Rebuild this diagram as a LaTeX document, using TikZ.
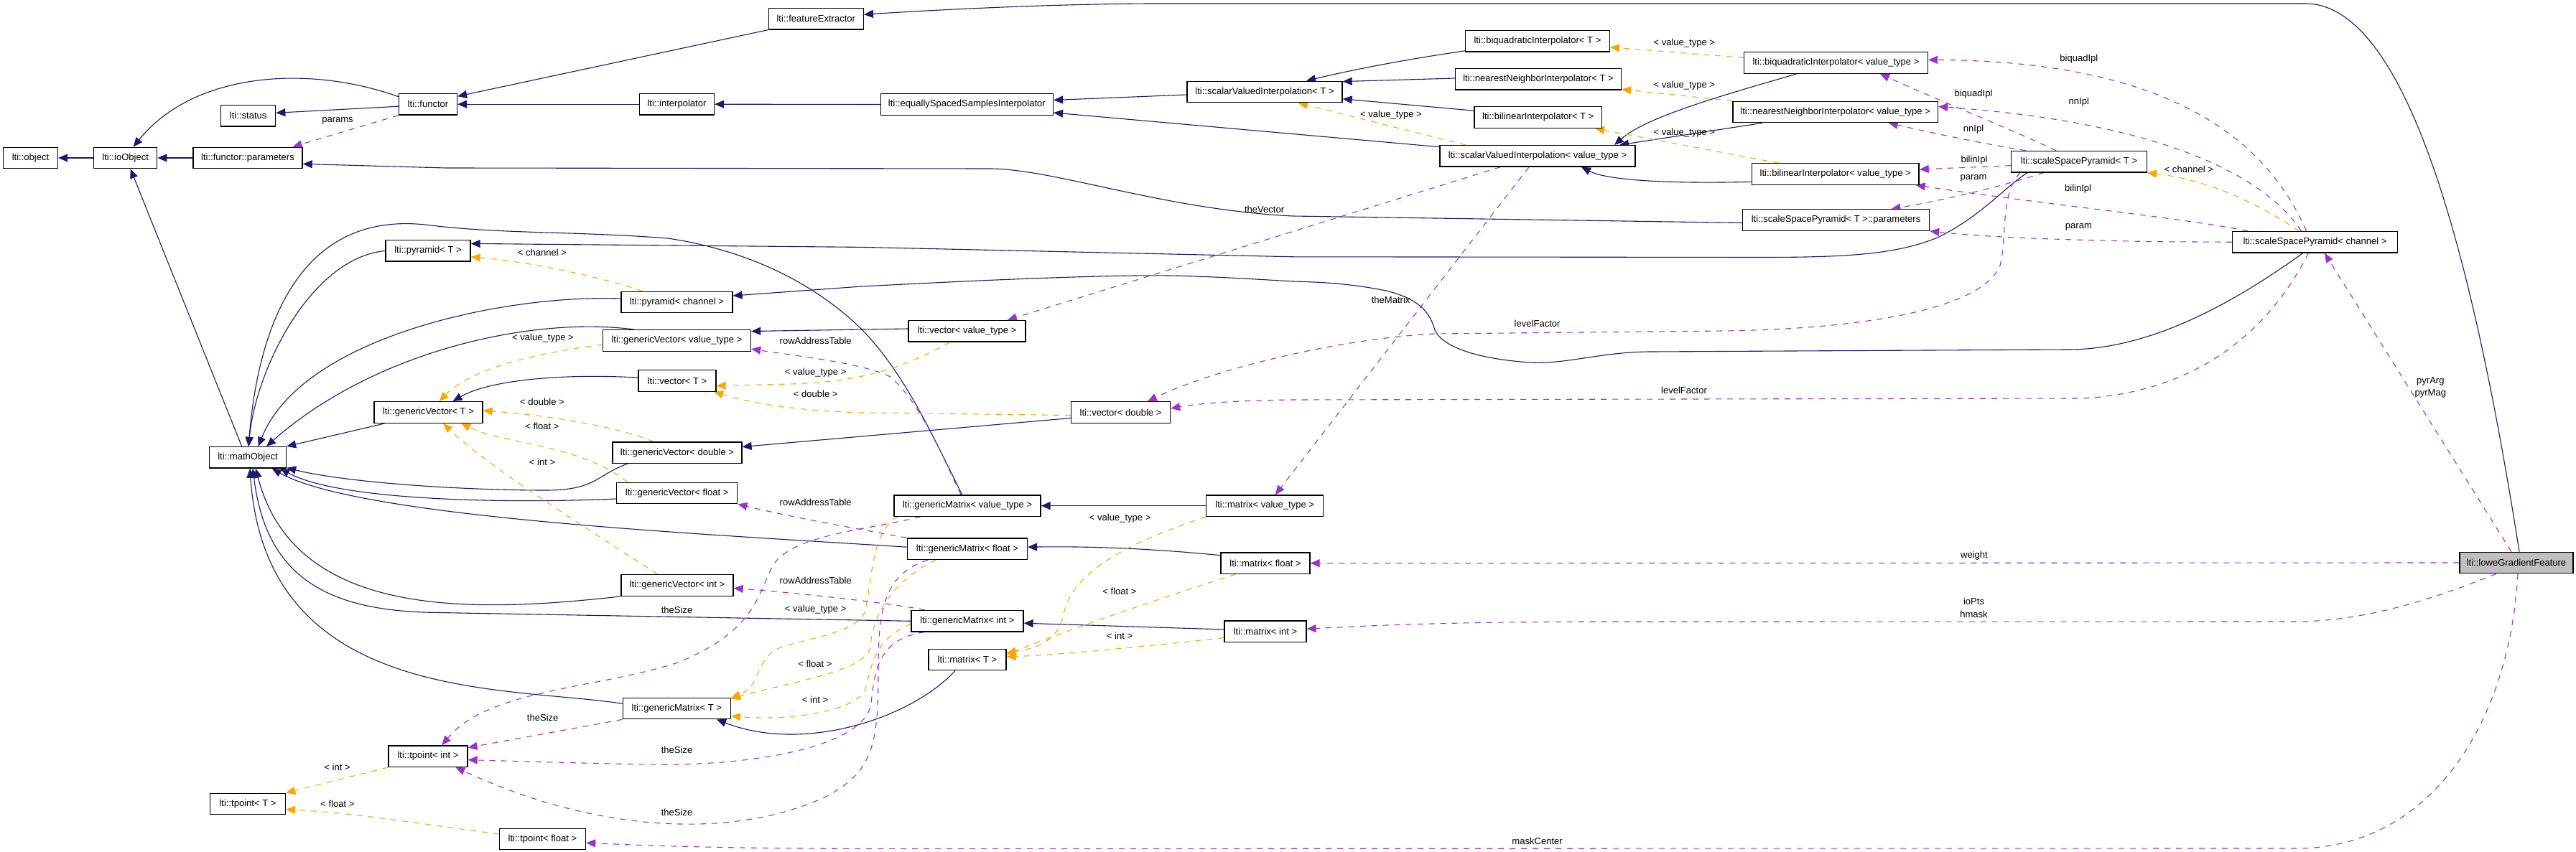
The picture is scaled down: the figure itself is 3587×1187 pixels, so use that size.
\documentclass[tikz,border=0pt]{standalone}
\usepackage{fontspec}
\setmainfont{Liberation Sans}
\usetikzlibrary{arrows.meta,backgrounds}
\definecolor{inhcol}{HTML}{191970}
\definecolor{tplcol}{HTML}{FFA500}
\definecolor{usecol}{HTML}{9A32CD}
\definecolor{lowegray}{HTML}{BFBFBF}
\newcommand\dxfont{\fontsize{6.52}{7.8}\selectfont}
\begin{document}
\begin{tikzpicture}[x=0.5pt,y=-0.5pt,
  cbox/.style={draw=black, line width=0.65pt, fill=white, minimum height=14.75pt, inner sep=0pt, minimum width=#1*0.5pt, font=\dxfont},
  arrtip/.style={-{Triangle[length=6.5pt,width=5.5pt]}},
  inh/.style={draw=inhcol, line width=0.55pt, arrtip},
  tpl/.style={draw=tplcol, line width=0.55pt, dash pattern=on 4pt off 4pt, arrtip},
  usedge/.style={draw=usecol, line width=0.55pt, dash pattern=on 4pt off 4pt, arrtip},
  lbl/.style={font=\dxfont, inner sep=0pt, align=center}]
\useasboundingbox (0,0) rectangle (3587,1187);
% nodes
\node[cbox=76] (object) at (42.5,220) {lti::object};
\node[cbox=88] (ioObject) at (174.7,220) {lti::ioObject};
\node[cbox=152] (fparams) at (345,220) {lti::functor::parameters};
\node[cbox=76] (status) at (345.7,161.3) {lti::status};
\node[cbox=81] (functor) at (596,145.2) {lti::functor};
\node[cbox=118] (pyrT) at (596,349.4) {lti::pyramid< T >};
\node[cbox=151] (gvT) at (596.5,574.5) {lti::genericVector< T >};
\node[cbox=107] (mathObject) at (345,637.3) {lti::mathObject};
\node[cbox=105] (tpointT) at (345,1120) {lti::tpoint< T >};
\node[cbox=110] (tpointInt) at (596,1053.6) {lti::tpoint< int >};
\node[cbox=132] (featureExtractor) at (1136.3,26.2) {lti::featureExtractor};
\node[cbox=104] (interpolator) at (942.5,145.2) {lti::interpolator};
\node[cbox=155] (pyrCh) at (942.5,421) {lti::pyramid< channel >};
\node[cbox=206] (gvVT) at (942.5,474.5) {lti::genericVector< value\_type >};
\node[cbox=108] (vecT) at (943,530.5) {lti::vector< T >};
\node[cbox=180] (gvDouble) at (943,630.8) {lti::genericVector< double >};
\node[cbox=168] (gvFloat) at (942.7,687) {lti::genericVector< float >};
\node[cbox=156] (gvInt) at (943,815.5) {lti::genericVector< int >};
\node[cbox=150] (gmT) at (942.3,987) {lti::genericMatrix< T >};
\node[cbox=120] (tpointFloat) at (755.5,1169) {lti::tpoint< float >};
\node[cbox=240] (equally) at (1346.4,145.5) {lti::equallySpacedSamplesInterpolator};
\node[cbox=216] (svT) at (1761,128) {lti::scalarValuedInterpolation< T >};
\node[cbox=163] (vecVT) at (1346.5,461.3) {lti::vector< value\_type >};
\node[cbox=138] (vecDouble) at (1560.5,574.5) {lti::vector< double >};
\node[cbox=204] (gmVT) at (1347,704.6) {lti::genericMatrix< value\_type >};
\node[cbox=167] (gmFloat) at (1347,764.7) {lti::genericMatrix< float >};
\node[cbox=156] (gmInt) at (1347,865.3) {lti::genericMatrix< int >};
\node[cbox=108] (matT) at (1347,919) {lti::matrix< T >};
\node[cbox=163] (matVT) at (1761.2,704.6) {lti::matrix< value\_type >};
\node[cbox=124] (matFloat) at (1762,784.7) {lti::matrix< float >};
\node[cbox=114] (matInt) at (1762,879.8) {lti::matrix< int >};
\node[cbox=200.5] (bqT) at (2141,57.4) {lti::biquadraticInterpolator< T >};
\node[cbox=231] (nnT) at (2142,110.4) {lti::nearestNeighborInterpolator< T >};
\node[cbox=177.6] (blT) at (2141.7,163.6) {lti::bilinearInterpolator< T >};
\node[cbox=272] (svVT) at (2141,217.4) {lti::scalarValuedInterpolation< value\_type >};
\node[cbox=255.6] (bqVT) at (2556.5,87.6) {lti::biquadraticInterpolator< value\_type >};
\node[cbox=285.5] (nnVT) at (2555.7,156) {lti::nearestNeighborInterpolator< value\_type >};
\node[cbox=232.7] (blVT) at (2555.7,242.6) {lti::bilinearInterpolator< value\_type >};
\node[cbox=260] (sspParams) at (2556.5,306.5) {lti::scaleSpacePyramid< T >::parameters};
\node[cbox=188.7] (sspT) at (2895,225.2) {lti::scaleSpacePyramid< T >};
\node[cbox=229.6] (sspCh) at (3223.5,337.3) {lti::scaleSpacePyramid< channel >};
\node[cbox=158, fill=lowegray] (lowe) at (3504,784) {lti::loweGradientFeature};
% labels
\node[lbl] (l1) at (470,168.7) {params};
\node[lbl] (l2) at (755,352) {< channel >};
\node[lbl] (l3) at (756,471.4) {< value\_type >};
\node[lbl] (l4) at (1135.7,519.3) {< value\_type >};
\node[lbl] (l5) at (1135.7,549) {< double >};
\node[lbl] (l6) at (755,559.8) {< double >};
\node[lbl] (l7) at (755,594) {< float >};
\node[lbl] (l8) at (755,644.3) {< int >};
\node[lbl] (l9) at (1135.7,474.5) {rowAddressTable};
\node[lbl] (l10) at (1135.7,700.2) {rowAddressTable};
\node[lbl] (l11) at (1135.7,808.9) {rowAddressTable};
\node[lbl] (l12) at (942.5,849.4) {theSize};
\node[lbl] (l13) at (1135.7,848.7) {< value\_type >};
\node[lbl] (l14) at (1135,925.2) {< float >};
\node[lbl] (l15) at (1135,974.6) {< int >};
\node[lbl] (l16) at (755.7,1000.2) {theSize};
\node[lbl] (l17) at (942.5,1044.6) {theSize};
\node[lbl] (l18) at (942.5,1131.5) {theSize};
\node[lbl] (l19) at (469.5,1069) {< int >};
\node[lbl] (l20) at (470,1120) {< float >};
\node[lbl] (l21) at (1559.7,722) {< value\_type >};
\node[lbl] (l22) at (1559,823.4) {< float >};
\node[lbl] (l23) at (1559,885.8) {< int >};
\node[lbl] (l24) at (1760.6,291.6) {theVector};
\node[lbl] (l25) at (1936.6,418.2) {theMatrix};
\node[lbl] (l26) at (1937,160) {< value\_type >};
\node[lbl] (l27) at (2345.3,60) {< value\_type >};
\node[lbl] (l28) at (2345.3,119) {< value\_type >};
\node[lbl] (l29) at (2345.3,185.2) {< value\_type >};
\node[lbl] (l30) at (2140.6,450.8) {levelFactor};
\node[lbl] (l31) at (2345,543.4) {levelFactor};
\node[lbl] (l32) at (2748,131) {biquadIpl};
\node[lbl] (l33) at (2748,180) {nnIpl};
\node[lbl] (l34) at (2749,222.7) {bilinIpl};
\node[lbl] (l35) at (2748,248) {param};
\node[lbl] (l36) at (2894.8,82.3) {biquadIpl};
\node[lbl] (l37) at (2894.8,142.3) {nnIpl};
\node[lbl] (l38) at (2893.6,263.3) {bilinIpl};
\node[lbl] (l39) at (2894.4,316) {param};
\node[lbl] (l40) at (3047.8,236) {< channel >};
\node[lbl] (l41) at (3384.3,540) {pyrArg\\[0.6pt]pyrMag};
\node[lbl] (l42) at (2748.5,846.4) {ioPts\\[1.2pt]hmask};
\node[lbl] (l43) at (2749,773.7) {weight};
\node[lbl] (l44) at (2140.6,1171.6) {maskCenter};
\begin{scope}[on background layer]
\fill[white] (0,0) rectangle (3587,1187);
% inheritance
\draw[inh] (ioObject.west) -- (object.east);
\draw[inh] (fparams.west) -- (ioObject.east);
\draw[inh] ([shift={(0,-10.5)}]functor.west) .. controls (430,90) and (270,100) .. ([shift={(11,0)}]ioObject.north);
\draw[inh] ([shift={(0,3)}]functor.west) -- ([shift={(0,-4)}]status.east);
\draw[inh] (featureExtractor.south west) -- ([shift={(0,-11)}]functor.east);
\draw[inh] (interpolator.west) -- (functor.east);
\draw[inh] (equally.west) -- (interpolator.east);
\draw[inh] ([shift={(0,4)}]svT.west) -- ([shift={(0,-6)}]equally.east);
\draw[inh] ([shift={(0,-12.7)}]svVT.west) -- ([shift={(0,11.5)}]equally.east);
\draw[inh] ([shift={(0,13.4)}]bqT.west) .. controls (1950,84) and (1880,98) .. ([shift={(58,0)}]svT.north);
\draw[inh] ([shift={(0,-1.4)}]nnT.west) -- ([shift={(0,1)}]svT.north east);
\draw[inh] ([shift={(0,-9.4)}]blT.west) -- ([shift={(0,9.8)}]svT.east);
\draw[inh] ([shift={(-55,0)}]bqVT.south) .. controls (2380,138) and (2290,165) .. ([shift={(107,0)}]svVT.north);
\draw[inh] ([shift={(-102,0)}]nnVT.south) -- ([shift={(114,0)}]svVT.north);
\draw[inh] ([shift={(0,10.7)}]blVT.west) .. controls (2330,256) and (2240,252) .. ([shift={(61,0)}]svVT.south);
\draw[inh] ([shift={(4,0)}]lowe.north) .. controls (3450,400) and (3360,5) .. (3210,5) -- (1600,5) .. controls (1450,6) and (1300,14) .. ([shift={(0,-6)}]featureExtractor.east);
\draw[inh] ([shift={(0,4)}]sspParams.west) -- (1800,301) .. controls (1620,292) and (1470,236) .. (1380,235) -- (620,234) -- ([shift={(0,8.4)}]fparams.east);
\draw[inh] ([shift={(-72,0)}]sspT.south) .. controls (2790,262) and (2760,300) .. (2700,330) .. controls (2640,356) and (2560,358.5) .. (2450,358.5) -- (1800,357.8) .. controls (1500,352) .. (1200,344.4) -- ([shift={(0,-10)}]pyrT.east);
\draw[inh] ([shift={(-17,0)}]sspCh.south) .. controls (3120,415) and (3000,487) .. (2880,487) -- (2300,490) .. controls (2230,490) and (2180,508) .. (2130,505) .. controls (2060,500) and (2010,485) .. (1998,460) .. controls (1990,430) and (1970,415) .. (1930,405) .. controls (1880,395) and (1840,393) .. (1800,392) .. controls (1700,386) and (1640,383) .. (1580,384) .. controls (1450,386) and (1300,394) .. (1200,399) -- ([shift={(0,-9)}]pyrCh.east);
\draw[inh] ([shift={(-8.3,0)}]mathObject.north) -- ([shift={(7,0)}]ioObject.south);
\draw[inh] (pyrT.west) .. controls (430,360) and (355,520) .. ([shift={(1.3,0)}]mathObject.north);
\draw[inh] ([shift={(0,-5)}]pyrCh.west) .. controls (700,410) and (420,470) .. ([shift={(14.7,0)}]mathObject.north);
\draw[inh] ([shift={(-59.3,0)}]gvVT.north) .. controls (740,440) and (520,490) .. ([shift={(26,0)}]mathObject.north);
\draw[inh] ([shift={(-60.8,0)}]gvT.south) -- (mathObject.north east);
\draw[inh] ([shift={(-69.4,0)}]gvDouble.south) .. controls (830,662) and (830,683) .. (760,683) .. controls (640,683) and (480,672) .. ([shift={(0,-1)}]mathObject.south east);
\draw[inh] ([shift={(0,8)}]gvFloat.west) .. controls (700,702) and (470,697) .. ([shift={(45.3,0)}]mathObject.south);
\draw[inh] ([shift={(0,-2.5)}]gmFloat.west) .. controls (1000,745) and (500,722) .. ([shift={(33.8,0)}]mathObject.south);
\draw[inh] (gvInt.south west) .. controls (650,855) and (410,860) .. ([shift={(11,0)}]mathObject.south);
\draw[inh] (gmInt.west) -- (600,853.3) .. controls (450,850) and (370,800) .. ([shift={(7,0)}]mathObject.south);
\draw[inh] ([shift={(0,-6.7)}]gmT.west) .. controls (700,955) and (370,980) .. ([shift={(3,0)}]mathObject.south);
\draw[inh] ([shift={(-7.3,0)}]gmVT.north) .. controls (1300,610) and (1260,520) .. (1200,459) .. controls (1140,400) and (1050,350) .. (930,332) .. controls (800,322) and (700,326) .. (600,314) .. controls (420,290) and (360,450) .. ([shift={(1,0)}]mathObject.north);
\draw[inh] ([shift={(0,8)}]vecDouble.west) -- ([shift={(0,-8.3)}]gvDouble.east);
\draw[inh] ([shift={(0,-4.4)}]vecT.west) .. controls (780,520) and (680,530) .. ([shift={(34,0)}]gvT.north);
\draw[inh] ([shift={(0,-3.3)}]vecVT.west) -- ([shift={(0,-13)}]gvVT.east);
\draw[inh] (matVT.west) -- (gmVT.east);
\draw[inh] ([shift={(0,-11)}]matFloat.west) .. controls (1600,764) and (1520,761) .. ([shift={(0,-2.5)}]gmFloat.east);
\draw[inh] ([shift={(0,-2.8)}]matInt.west) -- ([shift={(0,2.9)}]gmInt.east);
\draw[inh] ([shift={(-17,0)}]matT.south) .. controls (1270,1000) and (1120,1050) .. ([shift={(55.7,0)}]gmT.south);
% template instances
\draw[tpl] ([shift={(-48,0)}]pyrCh.north) .. controls (850,390) and (750,366) .. ([shift={(0,8.4)}]pyrT.east);
\draw[tpl] ([shift={(0,5.7)}]gvVT.west) .. controls (720,495) and (650,520) .. ([shift={(15,0)}]gvT.north);
\draw[tpl] ([shift={(-24,0)}]vecVT.south) .. controls (1260,512) and (1200,532) .. (1100,535) -- ([shift={(0,7)}]vecT.east);
\draw[tpl] ([shift={(0,4)}]vecDouble.west) -- (1200,575) .. controls (1100,572) and (1040,560) .. ([shift={(51,0)}]vecT.south);
\draw[tpl] ([shift={(-33,0)}]gvDouble.north) .. controls (870,598) and (780,580) .. ([shift={(0,-2.5)}]gvT.east);
\draw[tpl] ([shift={(-69,0)}]gvFloat.north) .. controls (810,620) and (700,618) .. ([shift={(45.5,0)}]gvT.south);
\draw[tpl] ([shift={(-27.3,0)}]gvInt.north) .. controls (800,725) and (680,650) .. ([shift={(20.5,0)}]gvT.south);
\draw[tpl] (tpointInt.south west) -- (tpointT.north east);
\draw[tpl] ([shift={(0,-7)}]tpointFloat.west) .. controls (600,1150) and (500,1133) .. ([shift={(0,7.6)}]tpointT.east);
\draw[tpl] ([shift={(-100,0)}]svVT.north) -- ([shift={(46.7,0)}]svT.south);
\draw[tpl] ([shift={(0,-7.2)}]bqVT.west) -- ([shift={(0,8.4)}]bqT.east);
\draw[tpl] (nnVT.north west) -- ([shift={(0,14)}]nnT.east);
\draw[tpl] ([shift={(-79,0)}]blVT.north) -- ([shift={(79.3,0)}]blT.south);
\draw[tpl] ([shift={(-22.5,0)}]sspCh.north) .. controls (3140,280) and (3070,250) .. (sspT.south east);
\draw[tpl] ([shift={(-97.3,0)}]gmVT.south) .. controls (1215,740) and (1215,800) .. (1205,850) .. controls (1195,885) and (1110,890) .. (1080,905) .. controls (1050,925) and (1060,955) .. ([shift={(0,1)}]gmT.north east);
\draw[tpl] ([shift={(-44,0)}]gmFloat.south) .. controls (1240,810) and (1215,860) .. (1212,900) .. controls (1210,935) and (1100,950) .. ([shift={(0,2)}]gmT.north east);
\draw[tpl] ([shift={(0,4)}]gmInt.west) .. controls (1220,890) and (1215,920) .. (1205,960) .. controls (1195,990) and (1100,1005) .. ([shift={(0,10.5)}]gmT.east);
\draw[tpl] (matVT.south west) .. controls (1560,760) and (1490,800) .. (1480,860) .. controls (1470,900) and (1430,905) .. ([shift={(0,-9.5)}]matT.east);
\draw[tpl] ([shift={(-41.6,0)}]matFloat.south) .. controls (1620,832) and (1480,880) .. ([shift={(0,-7)}]matT.east);
\draw[tpl] ([shift={(0,8.7)}]matInt.west) .. controls (1600,900) and (1480,912) .. ([shift={(0,-4)}]matT.east);
% usage
\draw[usedge] (functor.south west) -- ([shift={(62.5,0)}]fparams.north);
\draw[usedge] ([shift={(-52,0)}]svVT.south) -- ([shift={(56.3,0)}]vecVT.north);
\draw[usedge] ([shift={(-12,0)}]svVT.south) -- ([shift={(14.7,0)}]matVT.north);
\draw[usedge] ([shift={(-32,0)}]sspT.north) .. controls (2800,180) and (2700,140) .. ([shift={(61.5,0)}]bqVT.south);
\draw[usedge] ([shift={(-74,0)}]sspT.north) .. controls (2760,200) and (2690,185) .. ([shift={(74,0)}]nnVT.south);
\draw[usedge] ([shift={(0,5.5)}]sspT.west) -- ([shift={(0,-6.6)}]blVT.east);
\draw[usedge] ([shift={(-49,0)}]sspT.south) .. controls (2780,262) and (2700,280) .. ([shift={(77,0)}]sspParams.north);
\draw[usedge] ([shift={(-12,0)}]sspCh.north) .. controls (3150,180) and (3000,85) .. ([shift={(0,-4.2)}]bqVT.east);
\draw[usedge] ([shift={(-19,0)}]sspCh.north) .. controls (3150,240) and (3000,170) .. ([shift={(0,-7.5)}]nnVT.east);
\draw[usedge] ([shift={(-93.5,0)}]sspCh.north) .. controls (3050,305) and (2850,285) .. ([shift={(112,0)}]blVT.south);
\draw[usedge] (sspCh.west) -- (3000,336.7) .. controls (2860,334) and (2760,330) .. (sspParams.south east);
\draw[usedge] ([shift={(-82,0)}]sspT.south) .. controls (2785,270) and (2795,330) .. (2785,370) .. controls (2760,430) and (2600,458) .. (2400,461) -- (2000,465) .. controls (1880,470) and (1700,510) .. ([shift={(37.5,0)}]vecDouble.north);
\draw[usedge] ([shift={(-9,0)}]sspCh.south) .. controls (3170,440) and (3080,545) .. (2900,555) -- (1800,557) .. controls (1720,558) and (1670,562) .. ([shift={(0,-5.5)}]vecDouble.east);
\draw[usedge] ([shift={(-7,0)}]lowe.north) -- ([shift={(13.5,0)}]sspCh.south);
\draw[usedge] (lowe.west) -- (matFloat.east);
\draw[usedge] ([shift={(-28,0)}]lowe.south) .. controls (3400,830) and (3300,865) .. (3200,866) -- (2183,866.3) .. controls (2000,867) and (1900,872) .. ([shift={(0,-3.6)}]matInt.east);
\draw[usedge] ([shift={(2,0)}]lowe.south) .. controls (3495,1000) and (3390,1180) .. (3200,1182) -- (1200,1182.4) .. controls (1000,1182) and (900,1178) .. ([shift={(0,5.3)}]tpointFloat.east);
\draw[usedge] ([shift={(-9,0)}]gmVT.north) .. controls (1310,630) and (1280,560) .. (1240,525) .. controls (1200,505) and (1100,495) .. ([shift={(0,11.5)}]gvVT.east);
\draw[usedge] (gmFloat.north west) .. controls (1200,738) and (1100,720) .. (gvFloat.south east);
\draw[usedge] ([shift={(-59,0)}]gmInt.north) .. controls (1240,840) and (1100,825) .. ([shift={(0,4)}]gvInt.east);
\draw[usedge] ([shift={(-65.5,0)}]gmVT.south) .. controls (1200,740) and (1100,745) .. (1075,790) .. controls (1055,830) and (1050,880) .. (944,923) .. controls (830,960) and (680,960) .. ([shift={(19.3,0)}]tpointInt.north);
\draw[usedge] (gmT.south west) -- ([shift={(0,-12)}]tpointInt.east);
\draw[usedge] ([shift={(-60,0)}]gmInt.south) .. controls (1225,890) and (1218,930) .. (1213,980) .. controls (1205,1040) and (1050,1068) .. (900,1065) .. controls (800,1063) and (700,1060) .. ([shift={(0,5)}]tpointInt.east);
\draw[usedge] ([shift={(-55,0)}]gmFloat.south) .. controls (1230,800) and (1223,850) .. (1223,934) .. controls (1223,1040) and (1215,1075) .. (1150,1110) .. controls (1020,1170) and (830,1160) .. ([shift={(38.4,0)}]tpointInt.south);
\end{scope}
\end{tikzpicture}
\end{document}
